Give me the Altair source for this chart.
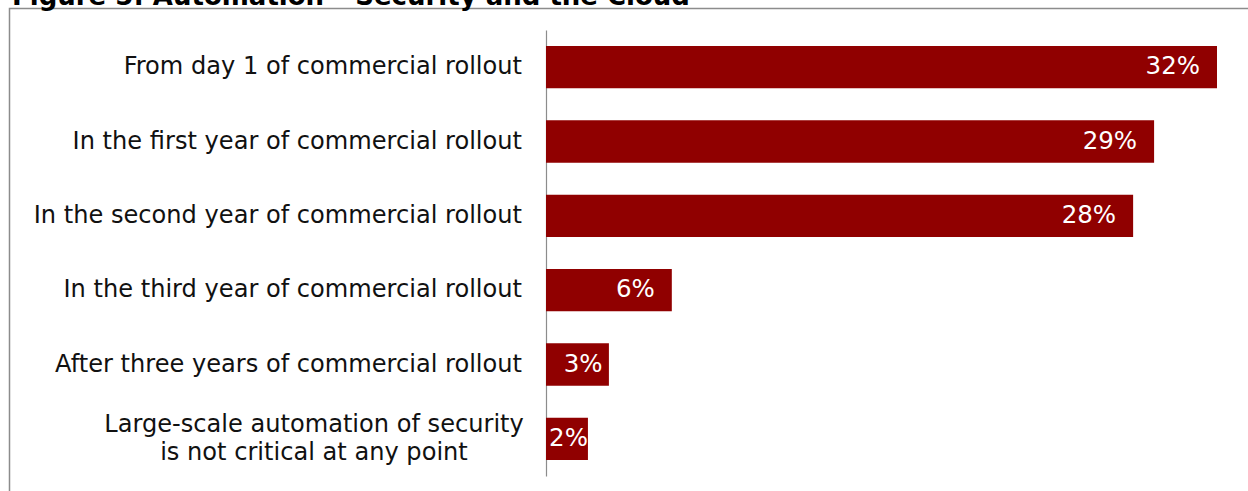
import altair as alt
import pandas as pd

categories = [
    "From day 1 of commercial rollout",
    "In the first year of commercial rollout",
    "In the second year of commercial rollout",
    "In the third year of commercial rollout",
    "After three years of commercial rollout",
    "Large-scale automation of security\nis not critical at any point",
]
values = [32, 29, 28, 6, 3, 2]
title_text = "Figure 5: Automation \u2013 Security and the Cloud"

df = pd.DataFrame({"category": categories, "value": values})
df["label"] = [f"{v}%" for v in values]
df["multi"] = ["\n" in c for c in categories]

FONT = "DejaVu Sans"
BAR = "#900000"

x_scale = alt.Scale(domain=[0, 32], nice=False, zero=True)
y_scale = alt.Scale(paddingInner=0.43, paddingOuter=0.215)

base = alt.Chart(df)

bars = base.mark_bar(color=BAR).encode(
    x=alt.X("value:Q", scale=x_scale, axis=None),
    y=alt.Y("category:N", sort=categories, scale=y_scale,
            axis=alt.Axis(labels=False, ticks=False, title=None, grid=False,
                          domainColor="#8c8c8c", domainWidth=1.2)),
)

value_labels = base.transform_calculate(
    lx="datum.value - max(0, min(0.81, datum.value - 2.7))"
).mark_text(align="right", baseline="middle", color="white", font=FONT, fontSize=24.5).encode(
    x=alt.X("lx:Q", scale=x_scale),
    y=alt.Y("category:N", sort=categories, scale=y_scale),
    text="label:N",
)

cat_single = base.transform_filter("!datum.multi").mark_text(
    align="right", baseline="middle", color="#111111", font=FONT, fontSize=24.1
).encode(
    x=alt.value(-24),
    y=alt.Y("category:N", sort=categories, scale=y_scale),
    text="category:N",
)

cat_multi = base.transform_filter("datum.multi").mark_text(
    align="center", baseline="middle", color="#111111", font=FONT, fontSize=24.1,
    lineBreak="\n", lineHeight=28, dy=-14
).encode(
    x=alt.value(-232),
    y=alt.Y("category:N", sort=categories, scale=y_scale),
    text="category:N",
)

one = alt.Chart(pd.DataFrame({"a": [0]}))
border = one.mark_rect(fill="white", fillOpacity=0, stroke="#8c8c8c", strokeWidth=1.5).encode(
    x=alt.value(-536.5), x2=alt.value(1200), y=alt.value(-21.5), y2=alt.value(1000)
)
title = one.mark_text(
    text=title_text, align="left", baseline="alphabetic", fontWeight="bold",
    font=FONT, fontSize=26, color="#000000"
).encode(x=alt.value(-534), y=alt.value(-25.3))

chart = alt.layer(border, title, bars, value_labels, cat_single, cat_multi).properties(
    width=671, height=446,
    padding={"left": 546, "top": 30, "right": 31, "bottom": 15},
    autosize=alt.AutoSizeParams(type="none"),
    background="white",
).configure_view(stroke=None)

chart.save("out.html", embed_options={"renderer": "svg", "actions": False})
